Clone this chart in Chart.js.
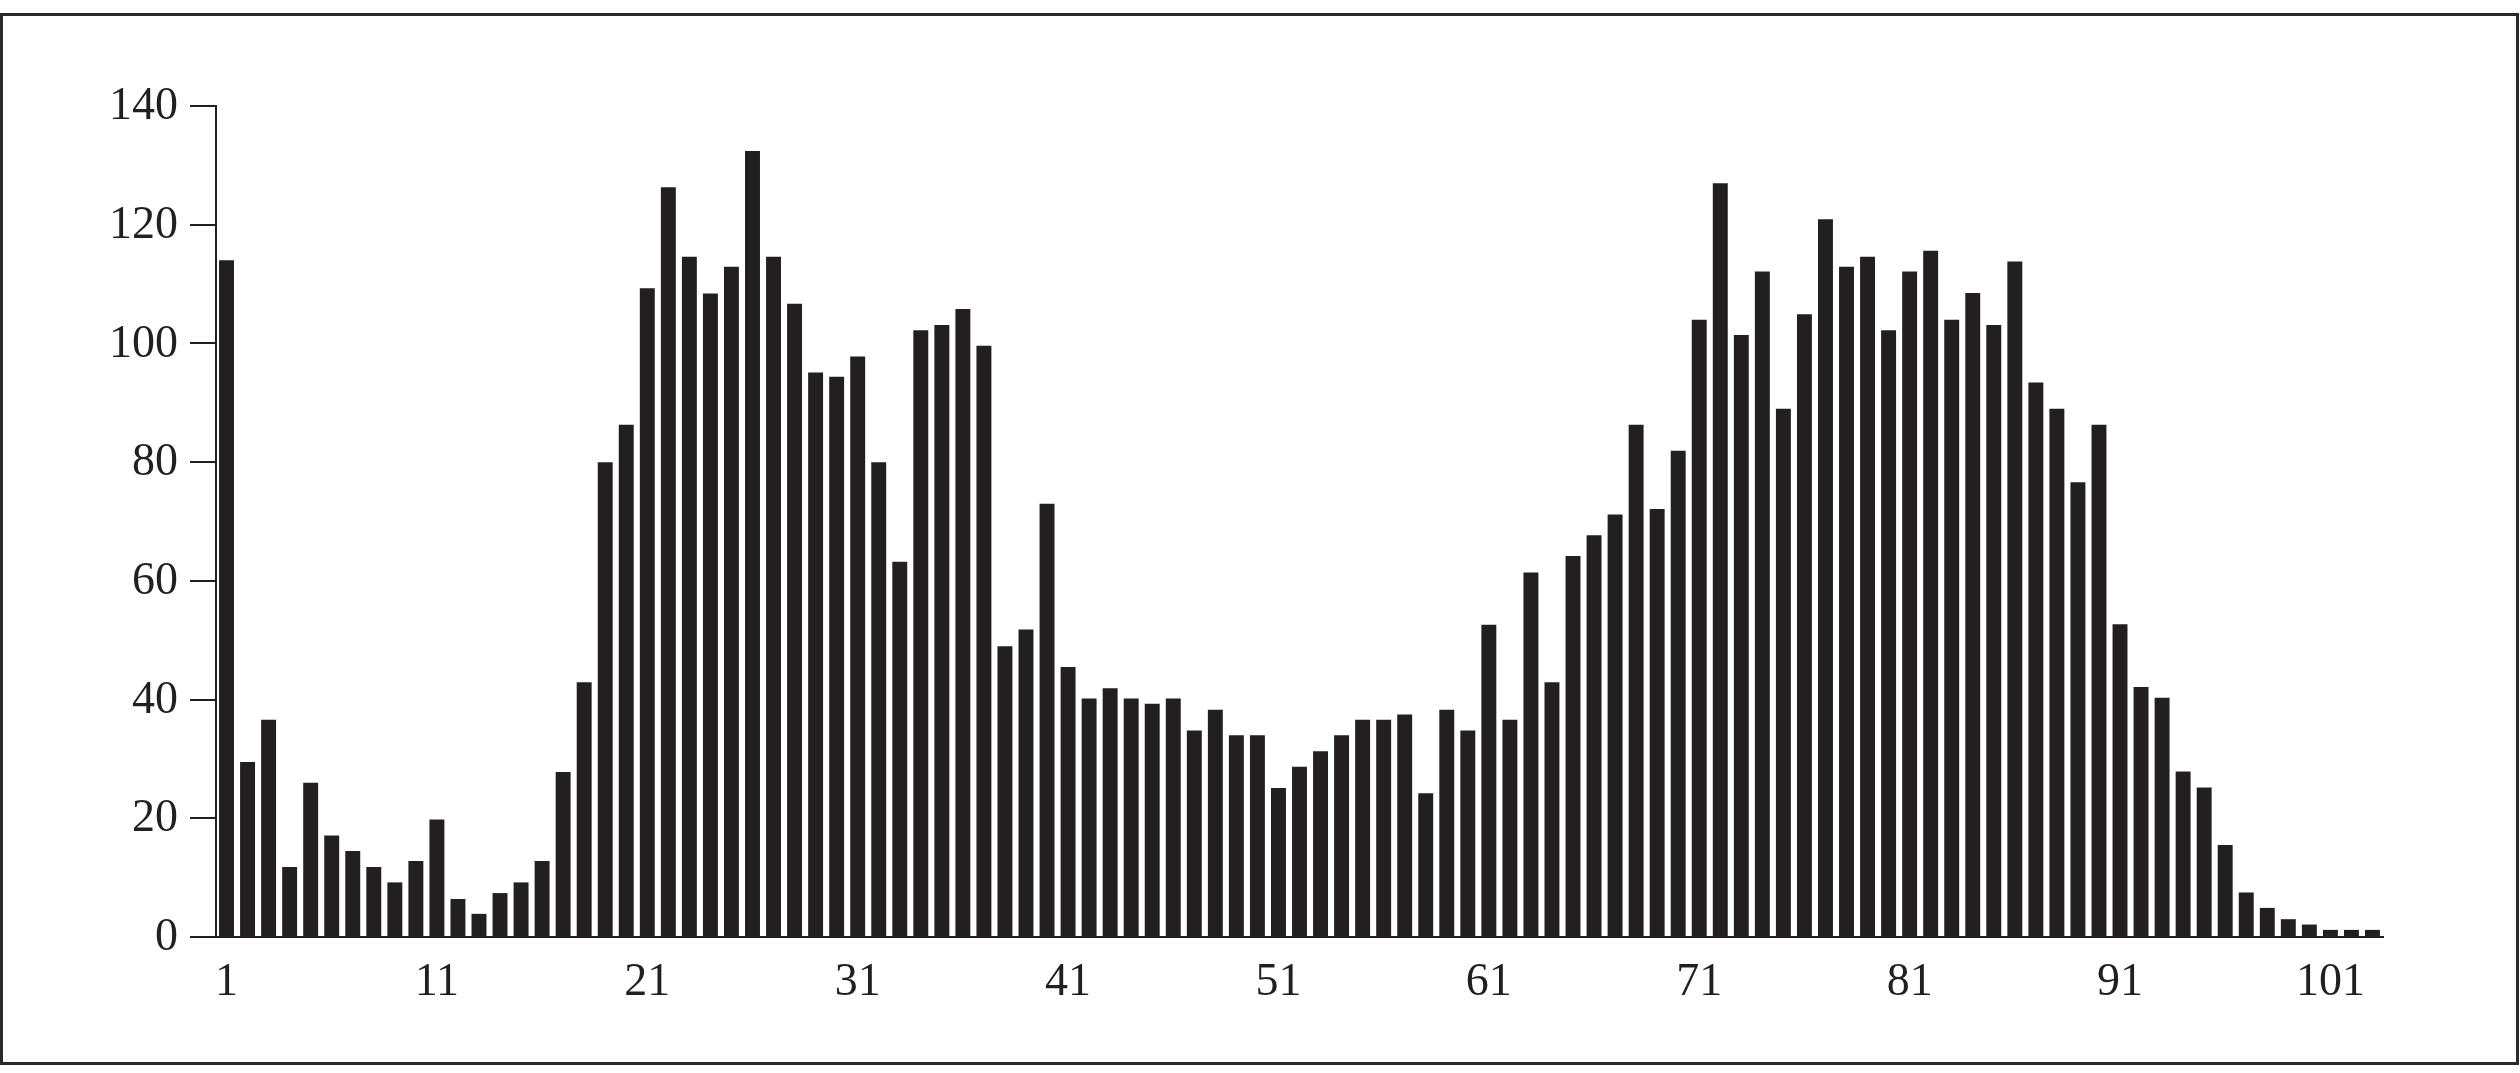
<!DOCTYPE html>
<html>
<head>
<meta charset="utf-8">
<script src="https://cdn.jsdelivr.net/npm/chart.js@4/dist/chart.umd.min.js"></script>
<style>
  html, body { margin: 0; padding: 0; background: #fff; }
  #frame {
    position: absolute; left: 0; top: 13px; width: 2519px; height: 1052px;
    border: 3px solid #2a2a2a; box-sizing: border-box;
  }
  #mychart { position: absolute; left: 0; top: 0; }
</style>
</head>
<body>
<div id="frame"></div>
<canvas id="mychart" width="2520" height="1073"></canvas>
<script>
// values, one per bar (1..103)
var counts = [
  114, 29.5, 36.6, 11.8, 26.0, 17.1, 14.5, 11.8, 9.2, 12.8,
  19.8, 6.4, 3.9, 7.4, 9.2, 12.8, 27.8, 42.9, 80.0, 86.3,
  109.3, 126.3, 114.6, 108.4, 112.9, 132.4, 114.6, 106.7, 95.1, 94.4,
  97.8, 80.0, 63.2, 102.2, 103.1, 105.8, 99.6, 49.0, 51.8, 73.0,
  45.5, 40.2, 41.9, 40.2, 39.3, 40.2, 34.8, 38.3, 34.0, 34.0,
  25.1, 28.7, 31.3, 34.0, 36.6, 36.6, 37.5, 24.2, 38.3, 34.8,
  52.6, 36.6, 61.4, 42.9, 64.2, 67.7, 71.2, 86.3, 72.1, 81.9,
  104.0, 127.0, 101.4, 112.1, 89.0, 104.9, 120.9, 112.9, 114.6, 102.2,
  112.1, 115.6, 104.0, 108.5, 103.1, 113.8, 93.4, 89.0, 76.6, 86.3,
  52.7, 42.1, 40.3, 27.9, 25.2, 15.5, 7.5, 4.9, 3.0, 2.1,
  1.2, 1.2, 1.2
];
var categories = counts.map(function (v, i) { return String(i + 1); });
var xTickLabels = ['1', '11', '21', '31', '41', '51', '61', '71', '81', '91', '101'];
var yTicks = [0, 20, 40, 60, 80, 100, 120, 140];

var ink = '#231f20';
var tickFont = { family: '"Liberation Serif", serif', size: 46 };

var ctx = document.getElementById('mychart').getContext('2d');
var myChart = new Chart(ctx, {
  type: 'bar',
  data: {
    labels: categories,
    datasets: [{
      label: 'count',
      data: counts,
      backgroundColor: ink,
      borderWidth: 0,
      barPercentage: 0.71,
      categoryPercentage: 1
    }]
  },
  options: {
    responsive: false,
    animation: false,
    devicePixelRatio: 1,
    layout: { padding: { left: 0, top: 106, right: 137, bottom: 0 } },
    plugins: { legend: { display: false }, tooltip: { enabled: false } },
    scales: {
      x: {
        offset: true,
        grid: { display: false },
        border: { display: true, color: ink, width: 2 },
        ticks: {
          autoSkip: false,
          maxRotation: 0,
          color: ink,
          font: tickFont,
          padding: 10,
          callback: function (val, idx) {
            var lab = categories[idx];
            return xTickLabels.indexOf(lab) >= 0 ? lab : '';
          }
        },
        afterFit: function (scale) { scale.height = 136; }
      },
      y: {
        min: yTicks[0],
        max: yTicks[yTicks.length - 1],
        grid: { drawOnChartArea: false, drawTicks: true, tickLength: 26, color: ink, lineWidth: 2 },
        border: { display: true, color: ink, width: 2 },
        ticks: {
          stepSize: 20,
          color: ink,
          font: tickFont,
          padding: 12,
          labelOffset: 1
        },
        afterBuildTicks: function (scale) {
          scale.ticks = yTicks.map(function (v) { return { value: v }; });
        },
        afterFit: function (scale) { scale.width = 216; }
      }
    }
  }
});
</script>
</body>
</html>
